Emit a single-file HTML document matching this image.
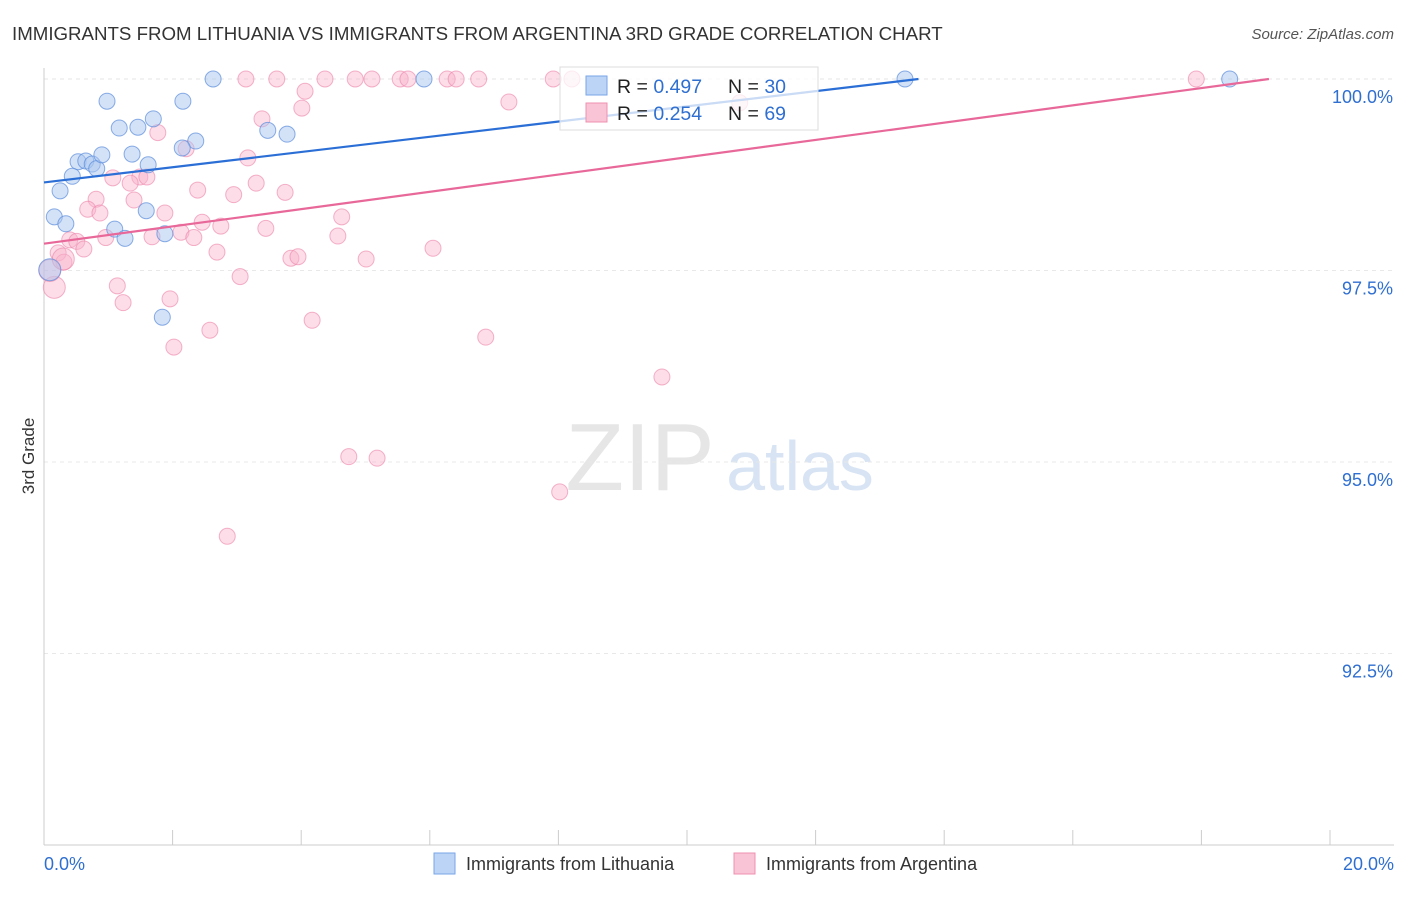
<!DOCTYPE html>
<html><head><meta charset="utf-8"><style>
body{margin:0;background:#fff;font-family:"Liberation Sans",sans-serif}
svg text{font-family:"Liberation Sans",sans-serif}
</style></head><body>
<svg width="1406" height="892" id="c">
<text x="12" y="40" font-size="18.7" fill="#333">IMMIGRANTS FROM LITHUANIA VS IMMIGRANTS FROM ARGENTINA 3RD GRADE CORRELATION CHART</text>
<text x="1394" y="39" font-size="15" fill="#555" font-style="italic" text-anchor="end">Source: ZipAtlas.com</text>
<text x="640" y="490" font-size="96" fill="#e6e6e6" font-family="Liberation Serif" text-anchor="middle">ZIP</text>
<text x="800" y="490" font-size="70" fill="#d8e4f4" text-anchor="middle">atlas</text>
<text x="34" y="456" font-size="17" fill="#333" transform="rotate(-90 34 456)" text-anchor="middle">3rd Grade</text>
<g id="grid"></g><g id="pts"></g><g id="lines"></g>
<g>
<rect x="560" y="67" width="258" height="63" fill="rgba(255,255,255,0.75)" stroke="#ddd"/>
<rect x="586" y="76" width="21" height="19" fill="#bcd4f5" stroke="#7aa6e8"/>
<rect x="586" y="103" width="21" height="19" fill="#f9c4d6" stroke="#ee90b0"/>
<text x="617" y="93" font-size="19.5" fill="#222">R = <tspan fill="#2f6fd0">0.497</tspan></text>
<text x="728" y="93" font-size="19.5" fill="#222">N = <tspan fill="#2f6fd0">30</tspan></text>
<text x="617" y="120" font-size="19.5" fill="#222">R = <tspan fill="#2f6fd0">0.254</tspan></text>
<text x="728" y="120" font-size="19.5" fill="#222">N = <tspan fill="#2f6fd0">69</tspan></text>
</g>
<g>
<rect x="434" y="853" width="21" height="21" fill="#bcd4f5" stroke="#7aa6e8"/>
<text x="466" y="870" font-size="18" fill="#333">Immigrants from Lithuania</text>
<rect x="734" y="853" width="21" height="21" fill="#f9c4d6" stroke="#ee90b0"/>
<text x="766" y="870" font-size="18" fill="#333">Immigrants from Argentina</text>
</g>
<text x="44" y="870" font-size="18" fill="#2f6fd0">0.0%</text>
<text x="1394" y="870" font-size="18" fill="#2f6fd0" text-anchor="end">20.0%</text>
</svg>
<script>
const yTicks=[100,97.5,95,92.5];
const yTickLabels=["100.0%","97.5%","95.0%","92.5%"];
const blueX=[2.63,5.91,13.39,18.44,0.98,2.16,1.70,1.17,1.46,3.48,3.78,2.36,2.15,1.37,0.53,0.65,0.75,1.62,0.82,0.90,0.44,0.25,0.16,0.34,1.10,1.59,1.26,1.88,1.84,0.09];
const blueY=[100,100,100,100,99.71,99.71,99.48,99.36,99.37,99.33,99.28,99.19,99.10,99.02,98.92,98.93,98.89,98.88,98.83,99.01,98.73,98.54,98.20,98.11,98.04,98.28,97.92,97.98,96.89,97.51];
const pinkX=[3.14,3.62,4.37,4.84,5.10,5.54,5.66,6.27,6.41,6.76,7.92,8.21,17.92,4.06,4.01,3.39,1.77,2.21,3.17,10.82,1.07,1.49,1.60,1.34,3.30,2.39,3.75,2.95,0.81,1.40,0.68,0.87,1.88,4.63,2.46,2.75,3.45,2.13,1.68,2.33,0.96,0.40,0.51,4.57,0.62,6.05,2.69,0.22,3.84,3.95,5.01,0.31,3.05,1.14,1.96,1.23,4.17,2.58,6.87,2.02,9.61,4.74,5.18,8.02,2.85,0.16,0.09,0.30,7.23];
const pinkY=[100,100,100,100,100,100,100,100,100,100,100,100,100,99.84,99.62,99.48,99.30,99.09,98.97,99.69,98.71,98.72,98.72,98.64,98.64,98.55,98.52,98.49,98.43,98.42,98.30,98.25,98.25,98.20,98.13,98.08,98.05,98.00,97.94,97.93,97.93,97.90,97.88,97.95,97.78,97.79,97.74,97.73,97.66,97.68,97.65,97.61,97.42,97.30,97.13,97.08,96.85,96.72,96.63,96.50,96.11,95.07,95.05,94.61,94.03,97.28,97.50,97.65,99.70];
const blueLine=[[0,98.65],[13.6,100]];
const pinkLine=[[0,97.85],[19.05,100]];
const NS='http://www.w3.org/2000/svg';
const xs=v=>44+v*64.3, ys=v=>79+(100-v)*76.6;
function mk(t,a,p){const e=document.createElementNS(NS,t);for(const k in a)e.setAttribute(k,a[k]);p.appendChild(e);return e;}
const g=document.getElementById('grid');
const topLine=mk('line',{x1:44,x2:1394,y1:ys(100),y2:ys(100),stroke:'#e4e4e4','stroke-dasharray':'4 4'},g);


yTicks.forEach((t,i)=>{
  if(i>0){const l=mk('line',{x1:44,x2:1394,y1:ys(t),y2:ys(t),stroke:'#e8e8e8','stroke-dasharray':'4 4'},g);
  
  }
  const tx=mk('text',{x:1393,y:ys(t)+24,'font-size':18,fill:'#2f6fd0','text-anchor':'end'},g);tx.textContent=yTickLabels[i];
  
  
});
const ax=mk('line',{x1:44,x2:44,y1:68,y2:845,stroke:'#ccc'},g);


const bx=mk('line',{x1:44,x2:1394,y1:845,y2:845,stroke:'#ccc'},g);


for(let i=0;i<=10;i++){const t=mk('line',{x1:xs(i*2),x2:xs(i*2),y1:830,y2:845,stroke:'#ccc'},g);

}
const p=document.getElementById('pts');
pinkX.forEach((x,i)=>{const big=i>=65&&i<=67;const c=mk('circle',{cx:xs(x),cy:ys(pinkY[i]),r:big?11:8,fill:'rgba(248,180,204,0.45)',stroke:'rgba(236,130,168,0.6)'},p);

});
blueX.forEach((x,i)=>{const c=mk('circle',{cx:xs(x),cy:ys(blueY[i]),r:i==29?11:8,fill:'rgba(170,198,240,0.5)',stroke:'rgba(90,140,220,0.7)'},p);

});
const L=document.getElementById('lines');
const bl=mk('line',{x1:xs(blueLine[0][0]),y1:ys(blueLine[0][1]),x2:xs(blueLine[1][0]),y2:ys(blueLine[1][1]),stroke:'#2b6fd6','stroke-width':2.2},L);


const pl=mk('line',{x1:xs(pinkLine[0][0]),y1:ys(pinkLine[0][1]),x2:xs(pinkLine[1][0]),y2:ys(pinkLine[1][1]),stroke:'#e8689a','stroke-width':2.2},L);


</script>
</body></html>
